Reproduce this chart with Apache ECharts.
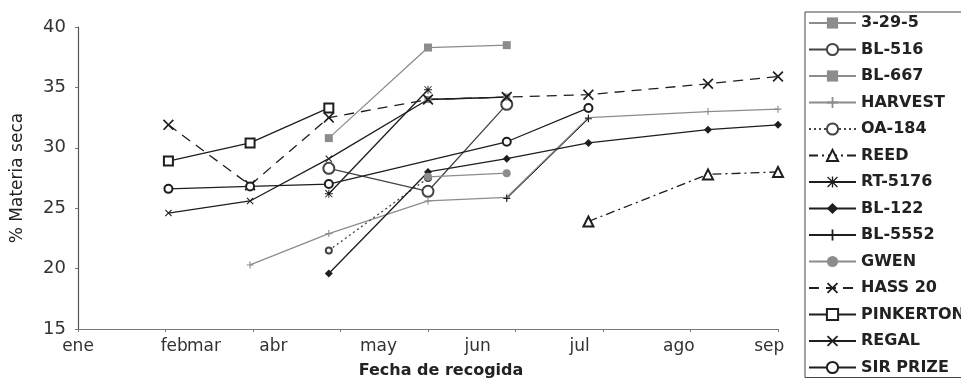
<!DOCTYPE html>
<html>
<head>
<meta charset="utf-8">
<script src="https://cdn.jsdelivr.net/npm/echarts@6/dist/echarts.min.js"></script>
<style>html,body{margin:0;padding:0;background:#fff}#c{width:961px;height:384px}</style>
</head>
<body>
<div id="c"></div>
<script>
// Collection dates (day of year, axis starts at 1 ene)
const xDays = [31, 59, 86, 120, 147, 175, 216, 240];
// Axis tick values and month label positions
const tickValues = [0, 30, 60, 90, 120, 150, 180, 210, 240];
const monthLabels = ['ene', 'feb', 'mar', 'abr', 'may', 'jun', 'jul', 'ago', 'sep'];
const monthLabelPos = [0, 33, 43.2, 67, 103, 137, 172, 206, 237];
const yTicks = [15, 20, 25, 30, 35, 40];

// % Materia seca per cultivar (null = not sampled)
const s_3295      = [null, null, 30.8, 38.3, 38.5, null, null, null];
const s_BL516     = [null, null, 28.3, 26.4, 33.6, null, null, null];
const s_BL667     = [null, null, null, 34.0, 34.2, null, null, null];
const s_HARVEST   = [null, 20.3, 22.9, 25.6, 25.9, 32.5, 33.0, 33.2];
const s_OA184     = [null, null, 21.5, 27.5, null, null, null, null];
const s_REED      = [null, null, null, null, null, 23.9, 27.8, 28.0];
const s_RT5176    = [null, null, 26.2, 34.8, null, null, null, null];
const s_BL122     = [null, null, 19.6, 28.0, 29.1, 30.4, 31.5, 31.9];
const s_BL5552    = [null, null, null, null, 25.8, 32.4, null, null];
const s_GWEN      = [null, null, null, 27.6, 27.9, null, null, null];
const s_HASS20    = [31.9, 26.9, 32.5, 34.0, 34.2, 34.4, 35.3, 35.9];
const s_PINKERTON = [28.9, 30.4, 33.3, null, null, null, null, null];
const s_REGAL     = [24.6, 25.6, 29.1, 34.0, 34.2, null, null, null];
const s_SIRPRIZE  = [26.6, 26.8, 27.0, null, 30.5, 33.3, null, null];

const P_PLUS = 'path://M4.2,0h1.6v10h-1.6z M0,4.2h10v1.6h-10z';
const P_X = 'path://M1.1,0L5,3.9L8.9,0L10,1.1L6.1,5L10,8.9L8.9,10L5,6.1L1.1,10L0,8.9L3.9,5L0,1.1Z';
const P_STAR = 'path://M4.4,0h1.2v10h-1.2z M0,4.4h10v1.2h-10z M1,0.2L5,4.2L9,0.2L9.8,1L5.8,5L9.8,9L9,9.8L5,5.8L1,9.8L0.2,9L4.2,5L0.2,1Z';

const BLACK = '#1e1e1e', GRAY = '#8c8c8c';

function pts(vals) {
  const out = [];
  vals.forEach((v, i) => { if (v !== null) out.push([xDays[i], v]); });
  return out;
}
function mk(name, vals, color, symbol, size, lineType, width) {
  return {
    name: name, type: 'line', data: pts(vals),
    symbol: symbol, symbolSize: size,
    lineStyle: { color: color, width: width || 1.3, type: lineType || 'solid' },
    itemStyle: { color: color, borderWidth: 1.3 },
    emphasis: { disabled: true },
    animation: false
  };
}

const series = [
  mk('3-29-5', s_3295, GRAY, 'rect', 8, 'solid'),
  mk('BL-516', s_BL516, '#444', 'emptyCircle', 11, 'solid'),
  mk('BL-667', s_BL667, GRAY, 'rect', 7, 'solid'),
  mk('HARVEST', s_HARVEST, GRAY, P_PLUS, 7, 'solid'),
  mk('OA-184', s_OA184, '#444', 'emptyCircle', 6, [2, 3]),
  mk('REED', s_REED, BLACK, 'emptyTriangle', 10, [9, 4, 2, 4]),
  mk('RT-5176', s_RT5176, BLACK, P_STAR, 8, 'solid'),
  mk('BL-122', s_BL122, BLACK, 'diamond', 8, 'solid'),
  mk('BL-5552', s_BL5552, BLACK, P_PLUS, 7, 'solid', 1),
  mk('GWEN', s_GWEN, GRAY, 'circle', 8, 'solid'),
  mk('HASS 20', s_HASS20, BLACK, P_X, 11, [10, 7]),
  mk('PINKERTON', s_PINKERTON, BLACK, 'emptyRect', 9, 'solid'),
  mk('REGAL', s_REGAL, BLACK, P_X, 7, 'solid'),
  mk('SIR PRIZE', s_SIRPRIZE, BLACK, 'emptyCircle', 8, 'solid')
];

const chart = echarts.init(document.getElementById('c'), null, { renderer: 'canvas' });
chart.setOption({
  backgroundColor: '#fff',
  animation: false,
  textStyle: { fontFamily: 'DejaVu Sans' },
  grid: { left: 78, right: 183, top: 27, bottom: 54, containLabel: false },
  xAxis: {
    type: 'value', min: 0, max: 240, interval: 30,
    name: 'Fecha de recogida', nameLocation: 'middle', nameGap: 34,
    nameTextStyle: { fontFamily: 'DejaVu Sans', fontWeight: 'bold', fontSize: 16, color: '#222', padding: [0, 0, 0, 26] },
    axisLine: { lineStyle: { color: '#777', width: 1 } },
    axisTick: { show: true, length: 3, customValues: tickValues, lineStyle: { color: '#777' } },
    axisLabel: {
      customValues: monthLabelPos, margin: 9,
      fontFamily: 'DejaVu Sans', fontSize: 17, color: '#333',
      formatter: function (v) { const i = monthLabelPos.indexOf(v); return i >= 0 ? monthLabels[i] : ''; }
    },
    splitLine: { show: false }
  },
  yAxis: {
    type: 'value', min: 15, max: 40, interval: 5,
    name: '% Materia seca', nameLocation: 'middle', nameGap: 52,
    nameTextStyle: { fontFamily: 'DejaVu Sans', fontSize: 17, color: '#222' },
    axisLine: { show: true, lineStyle: { color: '#555', width: 1.2 } },
    axisTick: { show: true, length: 3, lineStyle: { color: '#777' } },
    axisLabel: { margin: 12, fontFamily: 'DejaVu Sans', fontSize: 18, color: '#333',
      formatter: function (v) { return yTicks.indexOf(v) >= 0 ? String(v) : ''; } },
    splitLine: { show: false }
  },
  legend: {
    orient: 'vertical', left: 805, top: 12,
    padding: [3, 6, 2, 3], itemGap: 10.5, itemWidth: 47, itemHeight: 14,
    borderColor: '#444', borderWidth: 1,
    textStyle: { fontFamily: 'DejaVu Sans', fontSize: 16, fontWeight: 'bold', color: '#222', lineHeight: 16 },
    data: series.map(s => s.name)
  },
  series: series
});
</script>
</body>
</html>
